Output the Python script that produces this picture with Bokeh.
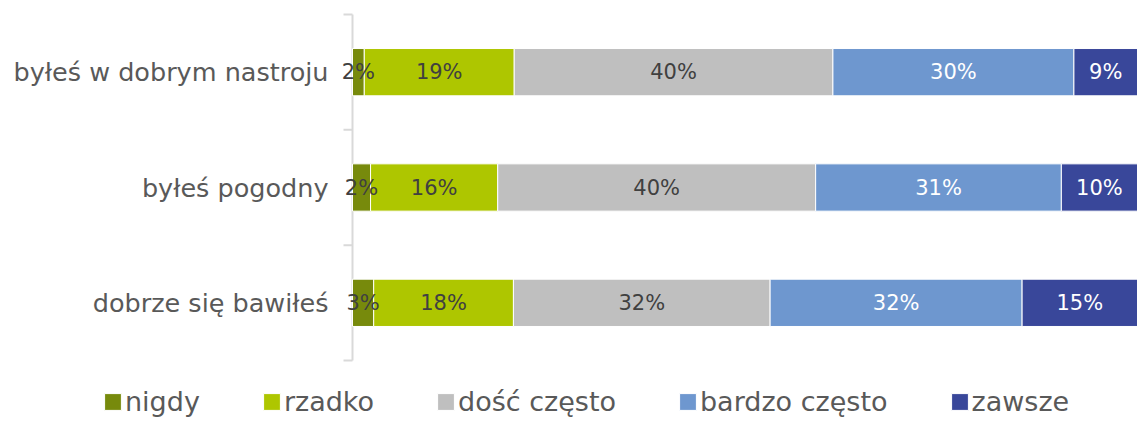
from bokeh.plotting import figure
from bokeh.models import Range1d, Legend, LegendItem, ColumnDataSource, LabelSet
from bokeh.core.properties import value
from bokeh.embed import file_html
from bokeh.resources import INLINE

categories = ["byłeś w dobrym nastroju", "byłeś pogodny", "dobrze się bawiłeś"]
series = ["nigdy", "rzadko", "dość często", "bardzo często", "zawsze"]
nigdy = [1.5, 2.3, 2.7]
rzadko = [19.1, 16.2, 17.8]
dosc_czesto = [40.6, 40.5, 32.7]
bardzo_czesto = [30.7, 31.3, 32.1]
zawsze = [8.1, 9.7, 14.7]
labels_nigdy = ["2%", "2%", "3%"]
labels_rzadko = ["19%", "16%", "18%"]
labels_dosc = ["40%", "40%", "32%"]
labels_bardzo = ["30%", "31%", "32%"]
labels_zawsze = ["9%", "10%", "15%"]

values = [nigdy, rzadko, dosc_czesto, bardzo_czesto, zawsze]
labels = [labels_nigdy, labels_rzadko, labels_dosc, labels_bardzo, labels_zawsze]
colors = ["#778a0c", "#aec600", "#bfbfbf", "#6e97cf", "#39479a"]
label_colors = ["#404040", "#404040", "#404040", "#ffffff", "#ffffff"]

FONT = "DejaVu Sans"
W, H = 1137, 421
# pixel layout of the bar area inside the canvas
L, R, T, B = 352, 1137, 14, 360
n = len(categories)
ypos = [n - i - 0.5 for i in range(n)]
xmax = 100.0
px_x = (R - L) / xmax          # pixels per percent
px_y = (B - T) / n             # pixels per category
x0 = -L / px_x
x1 = xmax + (W - R) / px_x
y0 = -(H - B) / px_y
y1 = n + T / px_y

p = figure(width=W, height=H, output_backend="svg", toolbar_location=None,
           x_range=Range1d(x0, x1), y_range=Range1d(y0, y1),
           min_border=0, min_border_left=0, min_border_right=0,
           min_border_top=0, min_border_bottom=0)
p.outline_line_color = None
p.grid.visible = False
p.axis.visible = False

# category axis (line + boundary ticks)
bounds = list(range(n + 1))
p.segment(x0=[0], x1=[0], y0=[0], y1=[n], line_color="#d9d9d9", line_width=2)
p.segment(x0=[-9 / px_x] * len(bounds), x1=[0] * len(bounds), y0=bounds, y1=bounds,
          line_color="#d9d9d9", line_width=2)
p.text(x=[-24 / px_x] * n, y=ypos, text=categories, text_align="right",
       text_baseline="middle", text_font=value(FONT), text_font_size="25.5px",
       text_color="#595959")

left = [0.0] * n
renderers = []
for vals, lab, col, lcol in zip(values, labels, colors, label_colors):
    right = [l + v for l, v in zip(left, vals)]
    mid = [(l + r) / 2 for l, r in zip(left, right)]
    src = ColumnDataSource(dict(y=ypos, left=left, right=right, mid=mid, text=lab))
    r = p.hbar(y="y", left="left", right="right", height=0.41, source=src,
               fill_color=col, line_color="white", line_width=1)
    renderers.append(r)
    ls = LabelSet(x="mid", y="y", text="text", source=src, text_align="center",
                  text_baseline="middle", text_font=value(FONT), text_font_size="21px",
                  text_color=lcol)
    p.add_layout(ls)
    left = right

legend = Legend(items=[LegendItem(label=s, renderers=[r]) for s, r in zip(series, renderers)],
                orientation="horizontal", location=(102, 4),
                padding=0, margin=0, spacing=61, glyph_width=21, glyph_height=21,
                label_standoff=2, label_text_font=FONT, label_text_font_size="27px",
                label_text_color="#595959", border_line_color=None,
                background_fill_alpha=0)
p.add_layout(legend, "center")

open("out.html", "w").write(file_html(p, INLINE))
